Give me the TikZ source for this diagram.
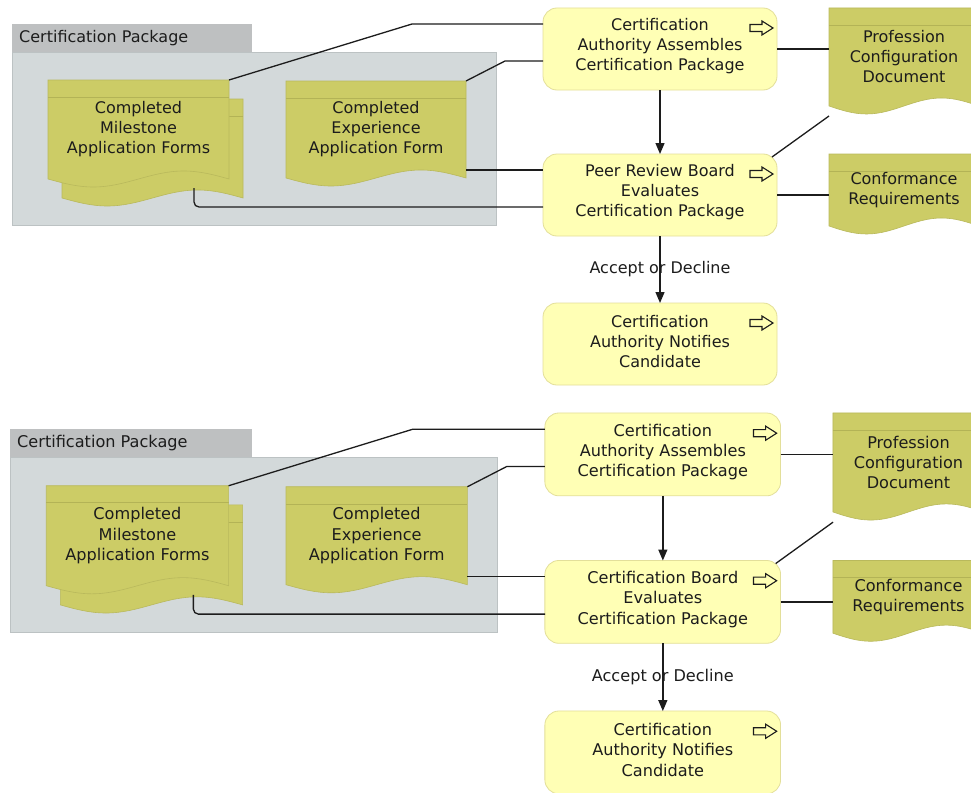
\documentclass[tikz,border=0pt]{standalone}
\usepackage{fontspec}
\setmainfont{DejaVu Sans}
\usetikzlibrary{arrows.meta}

\definecolor{procfill}{HTML}{FFFFB5}
\definecolor{procline}{HTML}{E3DF9A}
\definecolor{docfill}{HTML}{CCCC66}
\definecolor{docline}{HTML}{B9B95C}
\definecolor{dochead}{HTML}{B3B356}
\definecolor{pkgfill}{HTML}{D3D9DA}
\definecolor{pkgline}{HTML}{BCC2C3}
\definecolor{tabfill}{HTML}{BEC0C1}
\definecolor{ink}{HTML}{1C1C1C}

\tikzset{
  every node/.style={text=ink},
  lbl/.style={font=\fontsize{16}{20}\selectfont, align=center, inner sep=0pt},
  procbox/.style={rectangle, rounded corners=14pt, fill=procfill, draw=procline,
    line width=0.8pt, minimum width=234pt, minimum height=82pt, inner sep=0pt, outer sep=0pt},
  pkgbody/.style={rectangle, fill=pkgfill, draw=pkgline, line width=0.6pt,
    anchor=north west, inner sep=0pt, outer sep=0pt},
  pkgtab/.style={rectangle, fill=tabfill, anchor=north west, inner sep=0pt, outer sep=0pt},
  docbody/.style={fill=docfill, draw=docline, line width=0.6pt},
  dochdr/.style={draw=dochead, line width=0.8pt},
  docnode/.style={lbl, anchor=north west, outer sep=0pt},
  conn/.style={draw=ink, line width=1.3pt},
  flow/.style={conn, -{Triangle[length=11pt,width=9pt]}},
  icon/.style={draw=ink, fill=procfill, line width=1.1pt, line join=miter},
}

% document symbol: name, left, top, width, height to wave baseline, text
\newcommand\docitem[6]{%
  \path[docbody] (#2,#3) -- ++(#4,0) -- ++(0,#5)
    sin ++(-0.25*#4,-8) cos ++(-0.25*#4,8)
    sin ++(-0.25*#4,8) cos ++(-0.25*#4,-8) -- cycle;
  \draw[dochdr] (#2,#3+17) -- ++(#4,0);
  \node[docnode, minimum width=#4*1pt, minimum height=#5*1pt] (#1) at (#2,#3) {#6};
}

% small outlined block arrow in the upper right corner of a process
\newcommand\procicon[1]{%
  \draw[icon, shift={(#1.north east)}] (-27,16.5) -- (-15,16.5) -- (-15,13) -- (-4,20)
    -- (-15,27) -- (-15,23.5) -- (-27,23.5) -- cycle;
}

% one complete flow: package, documents, processes and connectors
\newcommand\flowpanel[1]{%
  \node[pkgbody, minimum width=484pt, minimum height=173pt] (pkg) at (12,52) {};
  \node[pkgtab, minimum width=240pt, minimum height=28pt] (tab) at (12,24) {};
  \node[lbl, anchor=west] (tabtext) at (19,38) {Certification Package};
  \docitem{msb}{62}{99}{181}{99}{}
  \docitem{ms}{48}{80}{181}{99}{Completed\\Milestone\\Application Forms}
  \docitem{exp}{286}{81}{180}{97}{Completed\\Experience\\Application Form}
  \docitem{prof}{829}{8}{150}{98}{Profession\\Configuration\\Document}
  \docitem{conf}{829}{154}{150}{72}{Conformance\\Requirements}
  \node[procbox] (p1) at (660,49) {};
  \node[procbox] (p2) at (660,195) {};
  \node[procbox] (p3) at (660,344) {};
  \node[lbl] (p1t) at ([yshift=2.5pt]p1.center) {Certification\\Authority Assembles\\Certification Package};
  \node[lbl] (p2t) at ([yshift=2.5pt]p2.center) {#1\\Evaluates\\Certification Package};
  \node[lbl] (p3t) at ([yshift=2.5pt]p3.center) {Certification\\Authority Notifies\\Candidate};
  \procicon{p1}\procicon{p2}\procicon{p3}
  \coordinate (k1) at (412,24);
  \coordinate (k2) at (505,61);
  \draw[conn] (ms.north east) -- (k1) -- (k1 -| p1.west);
  \draw[conn] (exp.north east) -- (k2) -- (k2 -| p1.west);
  \coordinate (a2) at ([yshift=25pt]p2.west);
  \coordinate (b2) at ([yshift=-12pt]p2.west);
  \draw[conn] (a2 -| exp.east) -- (a2);
  \draw[conn, rounded corners=5pt] ([xshift=-49pt,yshift=10pt]msb.south east) |- (b2);
  \draw[conn] (p1.east) -- (p1.east -| prof.west);
  \draw[conn] (p2.east) -- (p2.east -| conf.west);
  \draw[conn] ([xshift=-5pt,yshift=-3pt]p2.north east) -- ([yshift=-10pt]prof.south west);
  \draw[flow] (p1.south) -- (p2.north);
  \draw[flow] (p2.south) -- node[lbl] (dec) {Accept or Decline} (p3.north);
}

\begin{document}
\begin{tikzpicture}[x=1pt, y=-1pt]
  \useasboundingbox (0,0) rectangle (971,792);
  \clip (0,0) rectangle (971,792);
  \fill[white] (0,0) rectangle (971,792);
  \begin{scope}[name prefix=t-]
    \flowpanel{Peer Review Board}
  \end{scope}
  \begin{scope}[name prefix=b-, shift={(-2.09,404.9)}, xscale=1.0073, yscale=1.0102, transform shape]
    \flowpanel{Certification Board}
  \end{scope}
\end{tikzpicture}
\end{document}
